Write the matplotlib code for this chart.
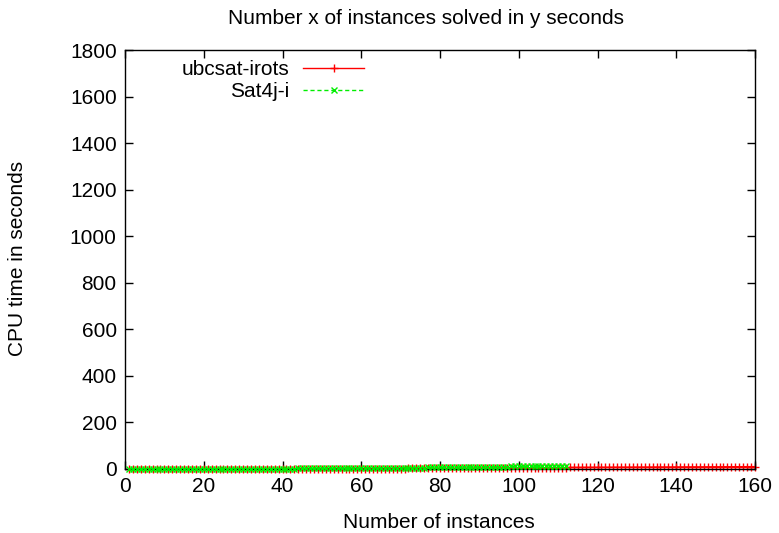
import matplotlib
matplotlib.use("Agg")
import matplotlib.pyplot as plt

plt.rcParams['font.family'] = ['Liberation Sans', 'DejaVu Sans']

title = "Number x of instances solved in y seconds"
xlabel = "Number of instances"
ylabel = "CPU time in seconds"
xticks = [0, 20, 40, 60, 80, 100, 120, 140, 160]
yticks = [0, 200, 400, 600, 800, 1000, 1200, 1400, 1600, 1800]

red_label = "ubcsat-irots"
red_y = [
    0.01, 0.01, 0.01, 0.02, 0.02, 0.02, 0.02, 0.03, 0.03, 0.03,
    0.04, 0.04, 0.05, 0.05, 0.06, 0.06, 0.07, 0.08, 0.08, 0.09,
    0.10, 0.11, 0.12, 0.13, 0.14, 0.15, 0.16, 0.17, 0.18, 0.20,
    0.21, 0.23, 0.24, 0.26, 0.28, 0.30, 0.32, 0.34, 0.36, 0.38,
    0.40, 0.43, 0.46, 0.49, 0.52, 0.55, 0.58, 0.62, 0.66, 0.70,
    0.74, 0.78, 0.83, 0.88, 0.93, 0.98, 1.04, 1.10, 1.16, 1.22,
    1.28, 1.35, 1.42, 1.49, 1.56, 1.64, 1.72, 1.80, 1.89, 1.98,
    2.07, 2.16, 2.26, 2.36, 2.46, 2.57, 2.68, 2.79, 2.90, 3.02,
    3.14, 3.26, 3.38, 3.50, 3.62, 3.74, 3.86, 3.98, 4.10, 4.22,
    4.34, 4.46, 4.58, 4.70, 4.82, 4.94, 5.06, 5.18, 5.30, 5.42,
    5.50, 5.58, 5.66, 5.74, 5.82, 5.90, 5.98, 6.06, 6.14, 6.22,
    6.30, 6.38, 6.46, 6.54, 6.62, 6.70, 6.78, 6.86, 6.94, 7.02,
    7.10, 7.18, 7.26, 7.34, 7.42, 7.50, 7.58, 7.66, 7.74, 7.82,
    7.90, 7.98, 8.06, 8.14, 8.22, 8.30, 8.38, 8.46, 8.54, 8.62,
    8.70, 8.78, 8.86, 8.94, 9.02, 9.10, 9.18, 9.26, 9.34, 9.42,
    9.50, 9.58, 9.66, 9.74, 9.82, 9.90, 9.98, 10.06, 10.14, 10.22,
]

green_label = "Sat4j-i"
green_y = [
    0.20, 0.21, 0.22, 0.23, 0.24, 0.26, 0.28, 0.30, 0.32, 0.34,
    0.36, 0.39, 0.42, 0.45, 0.48, 0.51, 0.54, 0.57, 0.61, 0.65,
    0.69, 0.73, 0.77, 0.82, 0.87, 0.92, 0.97, 1.02, 1.08, 1.14,
    1.20, 1.26, 1.32, 1.39, 1.46, 1.53, 1.60, 1.68, 1.76, 1.84,
    1.92, 2.01, 2.10, 2.19, 2.28, 2.38, 2.48, 2.58, 2.68, 2.79,
    2.90, 3.01, 3.12, 3.24, 3.36, 3.48, 3.60, 3.73, 3.86, 3.99,
    4.12, 4.26, 4.40, 4.54, 4.68, 4.83, 4.98, 5.13, 5.28, 5.44,
    5.60, 5.76, 5.92, 6.09, 6.26, 6.43, 6.60, 6.78, 6.96, 7.14,
    7.32, 7.51, 7.70, 7.89, 8.08, 8.28, 8.48, 8.68, 8.88, 9.09,
    9.30, 9.51, 9.72, 9.94, 10.16, 10.38, 10.60, 10.83, 11.06, 11.29,
    11.52, 11.76, 12.00, 12.24, 12.48, 12.73, 12.98, 13.23, 13.48, 13.74,
    14.00, 14.26,
]

red_x = list(range(1, len(red_y) + 1))
green_x = list(range(1, len(green_y) + 1))

FS = 15

fig = plt.figure(figsize=(7.79, 5.33), dpi=100)
ax = fig.add_axes([125/779, 1 - 469/533, 630/779, 419/533])

ax.plot(red_x, red_y, color='#ff0000', lw=1.0, marker='+', ms=6, mew=1.0,
        label=red_label, clip_on=False, zorder=2)
ax.plot(green_x, green_y, color='#00ee00', lw=1.0, ls=(0, (3, 2)), marker='x',
        ms=5, mew=1.0, label=green_label, clip_on=False, zorder=3)

ax.set_xlim(0, 160)
ax.set_ylim(0, 1800)
ax.set_xticks(xticks)
ax.set_yticks(yticks)
ax.tick_params(direction='in', top=True, right=True, length=6, width=1,
               labelsize=FS, pad=6)
for s in ax.spines.values():
    s.set_linewidth(1.0)
    s.set_color('black')

fig.text(426/779, 1 - 18/533, title, fontsize=FS, ha='center', va='center')
fig.text(439/779, 1 - 523/533, xlabel, fontsize=FS, ha='center', va='center')
fig.text(18/779, 1 - 258/533, ylabel, fontsize=FS, ha='center', va='center',
         rotation=90)

leg = ax.legend(loc='upper left', bbox_to_anchor=((182 - 125) / 630, 1 - (60 - 50) / 419),
                frameon=False, borderpad=0, borderaxespad=0,
                markerfirst=False, fontsize=FS, handlelength=2.9,
                handletextpad=0.65, labelspacing=0.15)
for t in leg.get_texts():
    t.set_ha('right')
leg._legend_box.align = "right"

fig.savefig("out.png", dpi=100)
